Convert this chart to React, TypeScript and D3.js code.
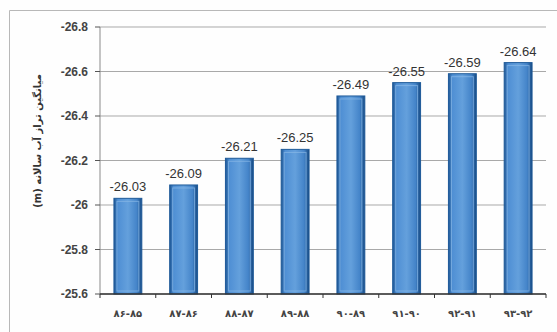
import React from "react";
import * as d3 from "d3";

const categories = ["۸۶-۸۵", "۸۷-۸۶", "۸۸-۸۷", "۸۹-۸۸", "۹۰-۸۹", "۹۱-۹۰", "۹۲-۹۱", "۹۳-۹۲"];
const values = [-26.03, -26.09, -26.21, -26.25, -26.49, -26.55, -26.59, -26.64];
const yTicks = [-25.6, -25.8, -26, -26.2, -26.4, -26.6, -26.8];
const yTickLabels = ["-25.6", "-25.8", "-26", "-26.2", "-26.4", "-26.6", "-26.8"];
const yLabel = "میانگین تراز آب سالانه (m)";

const W = 557;
const H = 332;
const left = 100;
const right = 546;
const top = 27;
const bottom = 294;

export default function App() {
  const x = d3.scaleBand<string>().domain(categories).range([left, right]).paddingInner(0.5).paddingOuter(0.25);
  const y = d3.scaleLinear().domain([-25.6, -26.8]).range([bottom, top]);
  const bw = x.bandwidth();
  const boundaries = d3.range(categories.length + 1).map((i) => left + (i * (right - left)) / categories.length);

  return (
    <svg width={W} height={H} style={{ position: "absolute", left: 0, top: 0, background: "#fff" }}>
      <defs>
        <linearGradient id="barGrad" x1="0" x2="1" y1="0" y2="0">
          <stop offset="0" stopColor="#1d5592" />
          <stop offset="0.14" stopColor="#4f8fd4" />
          <stop offset="0.5" stopColor="#64a0dc" />
          <stop offset="0.82" stopColor="#4484c9" />
          <stop offset="1" stopColor="#174a82" />
        </linearGradient>
      </defs>
      <rect x={0} y={0} width={W} height={H} fill="#fefefe" />
      {/* outer frame */}
      <path d={`M9.5,${H} V10.5 H${W}`} fill="none" stroke="#b8b8b8" strokeWidth={1} />
      {/* gridlines */}
      {yTicks.map((t, i) => (
        <line key={"g" + i} x1={left} x2={right} y1={y(t)} y2={y(t)} stroke="#a9a9a9" strokeWidth={1} />
      ))}
      {/* y axis */}
      <line x1={left} x2={left} y1={top} y2={bottom} stroke="#8a8a8a" strokeWidth={1} />
      {yTicks.map((t, i) => (
        <g key={"yt" + i}>
          <line x1={left - 5} x2={left} y1={y(t)} y2={y(t)} stroke="#555" strokeWidth={1} />
          <text x={left - 12} y={y(t)} dy="0.35em" textAnchor="end" fontFamily="Liberation Sans, Arial, sans-serif" fontWeight="bold" fontSize={12} fill="#444">
            {yTickLabels[i]}
          </text>
        </g>
      ))}
      {/* bars */}
      {values.map((v, i) => {
        const bx = x(categories[i]) as number;
        const by = y(v);
        const bh = bottom - by;
        return (
          <g key={"b" + i}>
            <rect x={bx} y={by} width={bw} height={bh} fill="url(#barGrad)" stroke="#1e5a99" strokeWidth={1} />
            <rect x={bx + 3} y={by + 3} width={bw - 6} height={bh - 6} fill="none" stroke="#8bbbe8" strokeWidth={1} opacity={0.7} />
            <text x={bx + bw / 2} y={by - 7} textAnchor="middle" fontFamily="Liberation Sans, Arial, sans-serif" fontSize={13} fill="#333">
              {v.toFixed(2)}
            </text>
          </g>
        );
      })}
      {/* x axis */}
      <line x1={left} x2={right} y1={bottom} y2={bottom} stroke="#333" strokeWidth={1.5} />
      {boundaries.map((bx, i) => (
        <line key={"xt" + i} x1={bx} x2={bx} y1={bottom} y2={bottom + 4} stroke="#333" strokeWidth={1} />
      ))}
      {categories.map((c, i) => (
        <text key={"xl" + i} x={(x(c) as number) + bw / 2} y={317} textAnchor="middle" direction="ltr" fontFamily="DejaVu Sans, sans-serif" fontWeight="bold" fontSize={10} fill="#444">
          {c}
        </text>
      ))}
      {/* y label */}
      <text transform={`translate(37,141) rotate(-90)`} textAnchor="middle" dy="0.35em" direction="rtl" style={{ unicodeBidi: "embed" }} fontFamily="DejaVu Sans, sans-serif" fontWeight="bold" fontSize={10} fill="#333">
        {yLabel}
      </text>
    </svg>
  );
}
